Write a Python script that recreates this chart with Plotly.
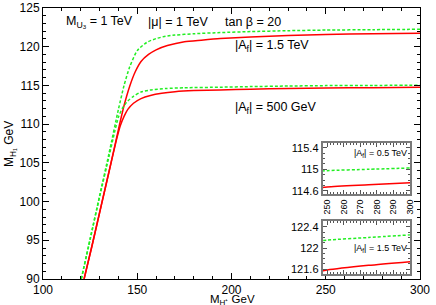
import plotly.graph_objects as go

# ---------------- data ----------------
# |A_f| = 1.5 TeV
x_up_red = [121.8, 126, 131, 136, 140, 143, 146, 149, 152, 156, 160, 166, 175, 184, 194, 210, 230, 250, 275, 300]
y_up_red = [90.0, 94.3, 99.6, 104.9, 109.3, 112.4, 114.9, 116.8, 118.1, 119.0, 119.6, 120.15, 120.65, 120.85, 121.05, 121.25, 121.45, 121.58, 121.67, 121.74]
x_up_grn = [120.3, 125, 130, 135, 140, 143, 146, 150, 155, 160, 165, 170, 180, 194, 210, 230, 250, 275, 300]
y_up_grn = [90.0, 95.2, 100.7, 106.2, 111.9, 115.0, 117.4, 119.5, 120.55, 121.05, 121.35, 121.5, 121.68, 121.82, 121.95, 122.07, 122.15, 122.2, 122.25]
# |A_f| = 500 GeV
x_lo_red = [121.8, 126, 131, 136, 139, 141, 143, 145, 148, 152, 157, 163, 170, 180, 194, 210, 230, 250, 275, 300]
y_lo_red = [90.0, 94.3, 99.6, 104.9, 108.0, 109.8, 111.0, 111.9, 112.7, 113.3, 113.7, 113.98, 114.18, 114.33, 114.42, 114.52, 114.6, 114.67, 114.71, 114.75]
x_lo_grn = [120.3, 125, 130, 135, 138, 140, 142, 145, 148, 152, 158, 165, 175, 194, 210, 230, 250, 275, 300]
y_lo_grn = [90.0, 95.1, 100.6, 105.8, 109.0, 110.9, 112.0, 113.0, 113.6, 114.15, 114.45, 114.6, 114.7, 114.77, 114.85, 114.92, 114.975, 115.0, 115.025]

x_ticks = [100, 150, 200, 250, 300]
y_ticks = [90, 95, 100, 105, 110, 115, 120, 125]
inset_x_ticks = [250, 260, 270, 280, 290, 300]
inset1_y_ticks = [114.6, 115, 115.4]
inset2_y_ticks = [121.6, 122, 122.4]

RED = "#ff0000"
GREEN = "#22ee22"
FONT = "Liberation Sans"

fig = go.Figure()

def add_set(xg, yg, xr, yr, axx, axy):
    fig.add_trace(go.Scatter(x=xr, y=yr, mode="lines", line=dict(color=RED, width=1.5, shape="spline", smoothing=0.6),
                             xaxis=axx, yaxis=axy, showlegend=False, hoverinfo="skip"))
    fig.add_trace(go.Scatter(x=xg, y=yg, mode="lines", line=dict(color=GREEN, width=1.5, dash="3px,2px", shape="spline", smoothing=0.6),
                             xaxis=axx, yaxis=axy, showlegend=False, hoverinfo="skip"))

# main plot
add_set(x_up_grn, y_up_grn, x_up_red, y_up_red, "x", "y")
add_set(x_lo_grn, y_lo_grn, x_lo_red, y_lo_red, "x", "y")
# inset 1 (|A_f| = 0.5 TeV)
add_set(x_lo_grn, y_lo_grn, x_lo_red, y_lo_red, "x2", "y2")
# inset 2 (|A_f| = 1.5 TeV)
add_set(x_up_grn, y_up_grn, x_up_red, y_up_red, "x3", "y3")

main_axis = dict(showline=True, linecolor="black", linewidth=1, mirror="ticks", ticks="inside",
                 ticklen=6, tickcolor="black", showgrid=False, zeroline=False, automargin=False,
                 tickfont=dict(family=FONT, size=12, color="black"))
inset_axis = dict(showline=True, linecolor="#7a7a7a", linewidth=2, mirror="ticks", ticks="inside",
                  ticklen=4, tickcolor="#555555", showgrid=False, zeroline=False, automargin=False,
                  tickfont=dict(family=FONT, size=11, color="black"))

fig.update_layout(
    width=436, height=305,
    margin=dict(l=43, r=16, t=8, b=26),
    paper_bgcolor="white", plot_bgcolor="white",
    font=dict(family=FONT, size=12, color="black"),
    xaxis=dict(main_axis, range=[100, 300], tickvals=x_ticks, domain=[0, 1],
               minor=dict(dtick=10, ticklen=3, ticks="inside", tickcolor="black")),
    yaxis=dict(main_axis, range=[90, 125], tickvals=y_ticks, domain=[0, 1],
               minor=dict(dtick=1, ticklen=3, ticks="inside", tickcolor="black")),
    xaxis2=dict(inset_axis, range=[247.4, 300], tickvals=inset_x_ticks, anchor="y2",
                domain=[0.742, 0.9735], tickangle=-90, tickfont=dict(family=FONT, size=9, color="black"),
                minor=dict(dtick=2, ticklen=2, ticks="inside", tickcolor="#555555")),
    yaxis2=dict(inset_axis, range=[114.54, 115.49], tickvals=inset1_y_ticks, anchor="x2",
                domain=[0.3137, 0.5018],
                minor=dict(dtick=0.1, ticklen=2, ticks="inside", tickcolor="#555555")),
    xaxis3=dict(inset_axis, range=[247.4, 300], tickvals=inset_x_ticks, anchor="y3",
                domain=[0.742, 0.9735], showticklabels=False,
                minor=dict(dtick=2, ticklen=2, ticks="inside", tickcolor="#555555")),
    yaxis3=dict(inset_axis, range=[121.505, 122.514], tickvals=inset2_y_ticks, anchor="x3",
                domain=[0.01845, 0.214],
                minor=dict(dtick=0.1, ticklen=2, ticks="inside", tickcolor="#555555")),
)

def px(xp):
    return (xp - 43) / 377

def py(yp):
    return (279 - yp) / 271

ann = [
    dict(text="M<sub>U<sub>3</sub></sub> = 1 TeV", x=64, y=22),
    dict(text="|μ| = 1 TeV", x=146, y=22),
    dict(text="tan β = 20", x=223, y=22),
    dict(text="|A<sub>f</sub>| = 1.5 TeV", x=233, y=46),
    dict(text="|A<sub>f</sub>| = 500 GeV", x=233, y=108),
]
for a in ann:
    fig.add_annotation(text=a["text"], xref="paper", yref="paper",
                       x=px(a["x"]), y=py(a["y"]),
                       xanchor="left", yanchor="middle", showarrow=False,
                       font=dict(family=FONT, size=12.5, color="black"))
for txt, yy in [("|A<sub>f</sub>| = 0.5 TeV", 153), ("|A<sub>f</sub>| = 1.5 TeV", 249)]:
    fig.add_annotation(text=txt, xref="paper", yref="paper",
                       x=px(409), y=py(yy),
                       xanchor="right", yanchor="middle", showarrow=False,
                       font=dict(family=FONT, size=9, color="black"))

# axis titles
fig.add_annotation(text="M<sub>H⁺</sub> GeV", xref="paper", yref="paper",
                   x=px(232), y=py(299.5), xanchor="center", yanchor="middle", showarrow=False,
                   font=dict(family=FONT, size=11.5, color="black"))
fig.add_annotation(text="M<sub>H₁</sub> GeV", xref="paper", yref="paper",
                   x=px(10), y=py(144), xanchor="center", yanchor="middle", showarrow=False,
                   textangle=-90, font=dict(family=FONT, size=12, color="black"))

fig.write_html("out.html", config={"displayModeBar": False},
               post_script="document.body.style.margin='0';document.body.style.padding='0';")
